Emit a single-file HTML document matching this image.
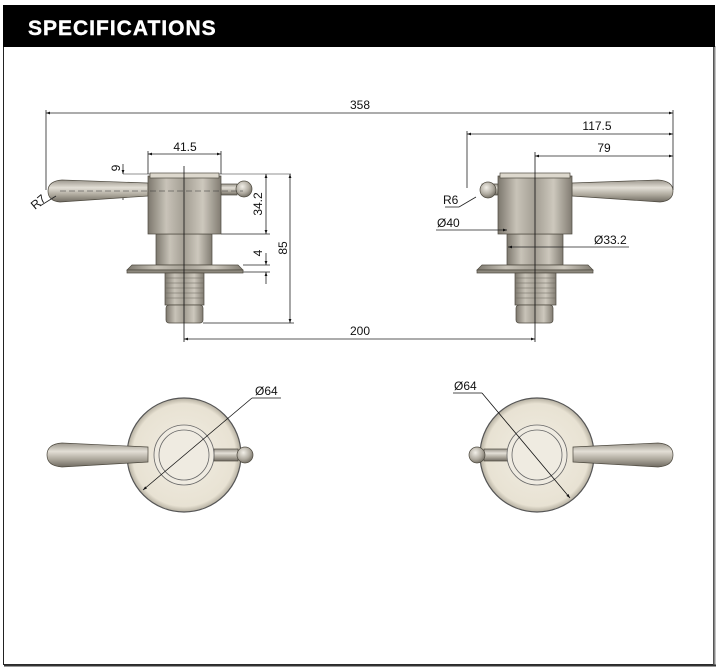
<!DOCTYPE html>
<html><head><meta charset="utf-8"><style>
html,body{margin:0;padding:0;background:#fff;width:717px;height:667px;overflow:hidden}
svg{display:block}
text{font-family:"Liberation Sans",sans-serif;fill:#111}
</style></head><body>
<svg width="717" height="667" viewBox="0 0 717 667" xmlns="http://www.w3.org/2000/svg">
<defs>
<linearGradient id="m" x1="0" x2="1" y1="0" y2="0">
<stop offset="0" stop-color="#7d786e"/><stop offset="0.25" stop-color="#c8c3b8"/><stop offset="0.5" stop-color="#a39e93"/><stop offset="0.75" stop-color="#cdc8bd"/><stop offset="1" stop-color="#817c72"/></linearGradient>
<linearGradient id="mv" x1="0" x2="0" y1="0" y2="1">
<stop offset="0" stop-color="#9a958b"/><stop offset="0.35" stop-color="#e3dfd6"/><stop offset="0.7" stop-color="#a9a498"/><stop offset="1" stop-color="#6f6a61"/></linearGradient>
<radialGradient id="ball" cx="0.4" cy="0.35" r="0.7"><stop offset="0" stop-color="#f2efe8"/><stop offset="0.6" stop-color="#b0aba0"/><stop offset="1" stop-color="#6e695f"/></radialGradient>
<radialGradient id="plate" cx="0.5" cy="0.5" r="0.5"><stop offset="0" stop-color="#f1ede2"/><stop offset="0.9" stop-color="#e8e2d3"/><stop offset="1" stop-color="#b4ae9f"/></radialGradient>
<marker id="a" viewBox="0 0 10 10" refX="10" refY="5" markerWidth="7" markerHeight="5" orient="auto-start-reverse"><path d="M0,1.5L10,5L0,8.5z" fill="#111"/></marker>
</defs>
<rect x="3.5" y="5.5" width="710" height="659" fill="#fff" stroke="#222" stroke-width="1"/>
<line x1="714.5" y1="46" x2="714.5" y2="666" stroke="#888" stroke-width="2"/>
<line x1="4" y1="665.5" x2="716" y2="665.5" stroke="#333" stroke-width="2"/>
<rect x="3" y="5" width="712" height="42" fill="#000"/>
<text x="28" y="35" font-size="21" style="fill:#fff;letter-spacing:1px;font-weight:600;stroke:#fff;stroke-width:0.4">SPECIFICATIONS</text>

<g stroke="#222" stroke-width="0.8" fill="none">
<line x1="46" y1="113" x2="673" y2="113" marker-start="url(#a)" marker-end="url(#a)"/>
<line x1="46" y1="110" x2="46" y2="190"/><line x1="673" y1="110" x2="673" y2="190"/>
<line x1="467" y1="134" x2="673" y2="134" marker-start="url(#a)" marker-end="url(#a)"/>
<line x1="467" y1="131" x2="467" y2="188"/>
<line x1="535" y1="156" x2="673" y2="156" marker-start="url(#a)" marker-end="url(#a)"/>
<line x1="148" y1="154" x2="221" y2="154" marker-start="url(#a)" marker-end="url(#a)"/>
<line x1="148" y1="151" x2="148" y2="174"/><line x1="221" y1="151" x2="221" y2="174"/>
<line x1="123" y1="174" x2="291" y2="174" stroke-width="0.6"/>
<line x1="123" y1="164" x2="123" y2="174" marker-end="url(#a)"/>
<line x1="123" y1="200" x2="123" y2="190" marker-end="url(#a)"/>
<line x1="221" y1="234" x2="270" y2="234"/>
<line x1="266" y1="174" x2="266" y2="234" marker-start="url(#a)" marker-end="url(#a)"/>
<line x1="243" y1="265" x2="270" y2="265"/><line x1="243" y1="272" x2="270" y2="272"/>
<line x1="266" y1="253" x2="266" y2="265" marker-end="url(#a)"/>
<line x1="266" y1="284" x2="266" y2="272" marker-end="url(#a)"/>
<line x1="203" y1="323" x2="294" y2="323"/>
<line x1="290" y1="174" x2="290" y2="323" marker-start="url(#a)" marker-end="url(#a)"/>
<line x1="184" y1="339" x2="535" y2="339" marker-start="url(#a)" marker-end="url(#a)"/>
</g>

<g stroke="#4d493f" stroke-width="0.7">
<path d="M148,183 L62,180 Q48,181 48,191 Q48,201 60,202 L148,196 Z" fill="url(#mv)"/>
<rect x="221" y="184" width="16" height="11" fill="url(#mv)"/>
<circle cx="244" cy="189" r="8" fill="url(#ball)"/>
<rect x="156" y="234" width="56" height="31" fill="url(#m)"/>
<path d="M132,265 L238,265 L243,270 L127,270 Z" fill="url(#m)"/>
<rect x="127" y="270" width="116" height="3" fill="#8d887d"/>
<rect x="165" y="273" width="39" height="32" fill="url(#m)"/>
<rect x="166" y="305" width="37" height="18" rx="3" fill="url(#m)"/>
<rect x="148" y="176" width="73" height="58" fill="url(#m)"/>
<rect x="150" y="173" width="69" height="5" fill="#ddd8cd"/>
</g>
<g stroke="#6a665c" stroke-width="0.5">
<line x1="165" y1="278" x2="204" y2="278"/><line x1="165" y1="283" x2="204" y2="283"/><line x1="165" y1="288" x2="204" y2="288"/><line x1="165" y1="293" x2="204" y2="293"/><line x1="165" y1="298" x2="204" y2="298"/>
</g>
<line x1="184" y1="166" x2="184" y2="342" stroke="#111" stroke-width="0.8"/>
<line x1="60" y1="191" x2="243" y2="191" stroke="#333" stroke-width="0.5" stroke-dasharray="6,3"/>
<line x1="40" y1="206" x2="56" y2="196" stroke="#222" stroke-width="0.8"/>

<g stroke="#4d493f" stroke-width="0.7">
<path d="M572,183 L658,180 Q673,181 673,191 Q673,201 660,202 L572,196 Z" fill="url(#mv)"/>
<rect x="482" y="184" width="16" height="11" fill="url(#mv)"/>
<circle cx="488" cy="190" r="8" fill="url(#ball)"/>
<rect x="507" y="234" width="56" height="31" fill="url(#m)"/>
<path d="M482,265 L588,265 L593,270 L477,270 Z" fill="url(#m)"/>
<rect x="477" y="270" width="116" height="3" fill="#8d887d"/>
<rect x="515" y="273" width="41" height="32" fill="url(#m)"/>
<rect x="516" y="305" width="37" height="18" rx="3" fill="url(#m)"/>
<rect x="498" y="176" width="74" height="58" fill="url(#m)"/>
<rect x="500" y="173" width="70" height="5" fill="#ddd8cd"/>
</g>
<g stroke="#6a665c" stroke-width="0.5">
<line x1="515" y1="278" x2="556" y2="278"/><line x1="515" y1="283" x2="556" y2="283"/><line x1="515" y1="288" x2="556" y2="288"/><line x1="515" y1="293" x2="556" y2="293"/><line x1="515" y1="298" x2="556" y2="298"/>
</g>
<line x1="535" y1="152" x2="535" y2="342" stroke="#111" stroke-width="0.8"/>
<g stroke="#222" stroke-width="0.8" fill="none">
<line x1="459" y1="207" x2="476" y2="197"/>
<line x1="445" y1="207" x2="459" y2="207"/>
<line x1="436" y1="230" x2="507" y2="230" marker-end="url(#a)"/>
<line x1="508" y1="247" x2="629" y2="247" marker-start="url(#a)"/>
</g>

<text x="360" y="109" font-size="12" text-anchor="middle">358</text>
<text x="597" y="130" font-size="12" text-anchor="middle">117.5</text>
<text x="604" y="152" font-size="12" text-anchor="middle">79</text>
<text x="185" y="151" font-size="12" text-anchor="middle">41.5</text>
<text x="360" y="335" font-size="12" text-anchor="middle">200</text>
<text transform="translate(120,168) rotate(-90)" font-size="12" text-anchor="middle">9</text>
<text transform="translate(262,204) rotate(-90)" font-size="12" text-anchor="middle">34.2</text>
<text transform="translate(262,253) rotate(-90)" font-size="12" text-anchor="middle">4</text>
<text transform="translate(287,248) rotate(-90)" font-size="12" text-anchor="middle">85</text>
<text transform="translate(35,210) rotate(-40)" font-size="12">R7</text>
<text x="443" y="204" font-size="12">R6</text>
<text x="437" y="227" font-size="12">Ø40</text>
<text x="594" y="244" font-size="12">Ø33.2</text>

<circle cx="184" cy="455" r="57" fill="url(#plate)" stroke="#555" stroke-width="1.2"/>
<path d="M148,447 L62,443 Q47,444 47,455 Q47,466 62,467 L148,462 Z" fill="url(#mv)" stroke="#4d493f" stroke-width="0.7"/>
<rect x="214" y="449" width="24" height="12" fill="url(#mv)" stroke="#4d493f" stroke-width="0.7"/>
<circle cx="245" cy="455" r="8" fill="url(#ball)" stroke="#4d493f" stroke-width="0.7"/>
<circle cx="184" cy="455" r="30" fill="#efebe1" stroke="#666" stroke-width="0.8"/>
<circle cx="184" cy="455" r="25" fill="none" stroke="#666" stroke-width="0.8"/>
<line x1="143" y1="490" x2="252" y2="398" stroke="#111" stroke-width="0.8" marker-start="url(#a)"/>
<line x1="252" y1="398" x2="281" y2="398" stroke="#111" stroke-width="0.8"/>
<text x="255" y="395" font-size="12">Ø64</text>

<circle cx="537" cy="455" r="57" fill="url(#plate)" stroke="#555" stroke-width="1.2"/>
<path d="M573,447 L658,443 Q673,444 673,455 Q673,466 658,467 L573,462 Z" fill="url(#mv)" stroke="#4d493f" stroke-width="0.7"/>
<rect x="484" y="449" width="24" height="12" fill="url(#mv)" stroke="#4d493f" stroke-width="0.7"/>
<circle cx="477" cy="455" r="8" fill="url(#ball)" stroke="#4d493f" stroke-width="0.7"/>
<circle cx="537" cy="455" r="30" fill="#efebe1" stroke="#666" stroke-width="0.8"/>
<circle cx="537" cy="455" r="25" fill="none" stroke="#666" stroke-width="0.8"/>
<line x1="482" y1="393" x2="570" y2="498" stroke="#111" stroke-width="0.8" marker-end="url(#a)"/>
<line x1="453" y1="393" x2="482" y2="393" stroke="#111" stroke-width="0.8"/>
<text x="454" y="390" font-size="12">Ø64</text>
</svg>
</body></html>
